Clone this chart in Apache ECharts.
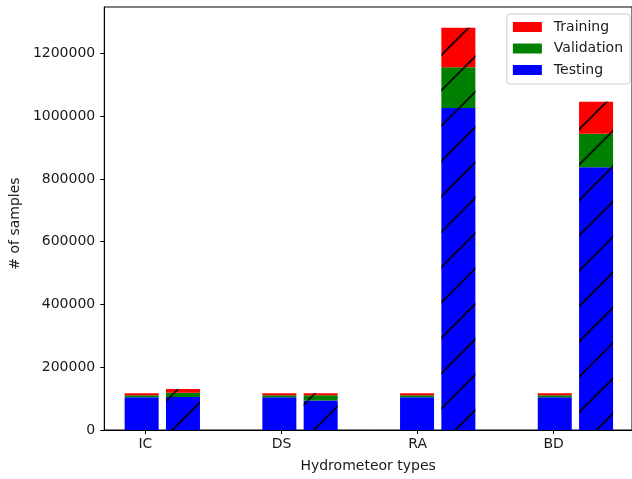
<!DOCTYPE html>
<html>
<head>
<meta charset="utf-8">
<script src="https://cdn.jsdelivr.net/npm/echarts@6/dist/echarts.min.js"></script>
<style>html,body{margin:0;padding:0;background:#fff;}#c{width:632px;height:479px;}</style>
</head>
<body>
<div id="c"></div>
<script>
// ---- data ----
const categories = ['IC', 'DS', 'RA', 'BD'];
const yTicks = [0, 200000, 400000, 600000, 800000, 1000000, 1200000];
// plain (unhatched) bars
const plainTesting    = [104000, 104000, 104000, 104000];
const plainValidation = [6500, 6500, 6500, 6500];
const plainTraining   = [6500, 6500, 6500, 6500];
// hatched bars
const hatchTesting    = [105000, 94000, 1026000, 837000];
const hatchValidation = [14000, 17000, 130000, 107000];
const hatchTraining   = [11500, 6500, 126000, 102000];

// ---- layout (pixels) ----
const W = 632, H = 479;
const frameLeft = 100, frameTop = 7, frameBottom = 49, frameRight = -2;
const unitPx = 137.7;          // px per category step
const xMin = -0.3025;          // left edge of frame in category units
const xMax = xMin + (W - frameLeft - frameRight) / unitPx;
const hatchShift = 0.3;        // hatched bar offset in category units
const yMax = 1348000;

const COLORS = {Training: '#ff0000', Validation: '#008000', Testing: '#0000ff'};
const FONT = 'DejaVu Sans';
const TXT = '#1a1a1a';

const decal = {
  symbol: 'rect',
  symbolSize: 1,
  color: 'rgba(0,0,0,0.85)',
  dashArrayX: [1, 0],
  dashArrayY: [2, 23],
  rotation: -Math.PI / 4
};

// hidden category grids (boundaryGap false) whose points line up with the frame's category positions
function catGrid(shift) {
  const left = frameLeft + (0 - xMin + shift) * unitPx;
  return {left: left, width: unitPx * (categories.length - 1), top: frameTop, bottom: frameBottom, show: false};
}

function mk(name, vals, idx, hatched) {
  return {
    type: 'bar',
    name: name,
    stack: 'total' + idx,
    xAxisIndex: idx, yAxisIndex: idx,
    barWidth: 34,
    data: vals,
    itemStyle: Object.assign({color: COLORS[name]}, hatched ? {decal: decal} : {}),
    emphasis: {disabled: true},
    animation: false
  };
}

const series = [
  mk('Testing', plainTesting, 1, false),
  mk('Validation', plainValidation, 1, false),
  mk('Training', plainTraining, 1, false),
  mk('Testing', hatchTesting, 2, true),
  mk('Validation', hatchValidation, 2, true),
  mk('Training', hatchTraining, 2, true)
];

const hiddenX = i => ({type: 'category', gridIndex: i, data: categories, show: false, boundaryGap: false});
const hiddenY = i => ({type: 'value', gridIndex: i, min: 0, max: yMax, show: false});

const chart = echarts.init(document.getElementById('c'), null, {renderer: 'canvas'});
chart.setOption({
  animation: false,
  backgroundColor: '#fff',
  textStyle: {fontFamily: FONT},
  grid: [
    {left: frameLeft, right: frameRight, top: frameTop, bottom: frameBottom, show: true, borderColor: '#000', borderWidth: 1},
    catGrid(0),
    catGrid(hatchShift)
  ],
  legend: {
    data: ['Training', 'Validation', 'Testing'],
    orient: 'vertical',
    right: 2, top: 14,
    itemWidth: 29, itemHeight: 10, itemGap: 7.5,
    padding: [6, 7, 7, 6],
    backgroundColor: 'rgba(255,255,255,0.8)',
    borderColor: '#cccccc', borderWidth: 1, borderRadius: 3,
    icon: 'rect',
    selectedMode: false,
    textStyle: {fontFamily: FONT, fontSize: 14, color: TXT, padding: [0, 0, 0, 7], lineHeight: 14}
  },
  xAxis: [
    {
      type: 'value', gridIndex: 0,
      min: xMin, max: xMax,
      name: 'Hydrometeor types',
      nameLocation: 'middle', nameGap: 29,
      nameTextStyle: {fontFamily: FONT, fontSize: 14, color: TXT},
      axisLine: {show: true, onZero: false, lineStyle: {color: '#000', width: 1}},
      axisTick: {show: true, customValues: [0, 1, 2, 3], length: 4, lineStyle: {color: '#000'}},
      axisLabel: {customValues: [0, 1, 2, 3], formatter: v => categories[Math.round(v)] || '', margin: 7,
        fontFamily: FONT, fontSize: 14, color: TXT},
      splitLine: {show: false}
    },
    hiddenX(1), hiddenX(2)
  ],
  yAxis: [
    {
      type: 'value', gridIndex: 0,
      min: 0, max: yMax,
      name: '# of samples',
      nameLocation: 'middle', nameGap: 81,
      nameTextStyle: {fontFamily: FONT, fontSize: 14, color: TXT, padding: [0, 10, 0, 0]},
      axisLine: {show: true, onZero: false, lineStyle: {color: '#000', width: 1}},
      axisTick: {show: true, customValues: yTicks, length: 4, lineStyle: {color: '#000'}},
      axisLabel: {customValues: yTicks, margin: 9, fontFamily: FONT, fontSize: 14, color: TXT,
        formatter: v => String(v)},
      splitLine: {show: false}
    },
    hiddenY(1), hiddenY(2)
  ],
  series: series
});
</script>
</body>
</html>
